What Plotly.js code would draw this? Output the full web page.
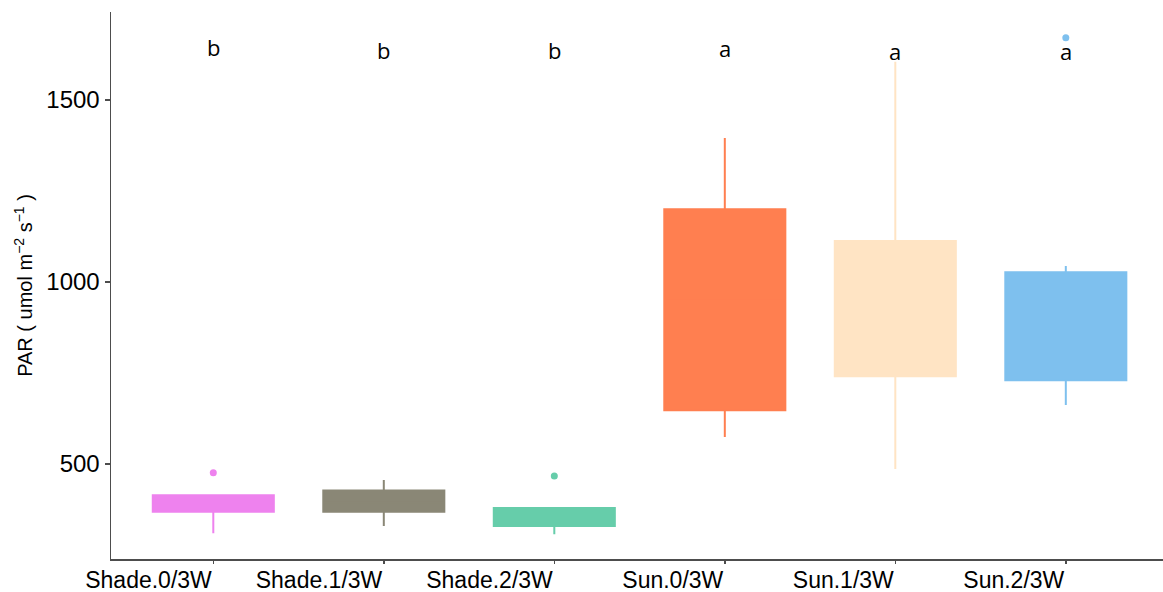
<!DOCTYPE html>
<html>
<head>
<meta charset="utf-8">
<script src="https://cdn.plot.ly/plotly-3.0.1.min.js"></script>
<style>html,body{margin:0;padding:0;background:#fff;}#chart{width:1163px;height:592px;}</style>
</head>
<body>
<div id="chart"></div>
<script>
const categories = ['Shade.0/3W','Shade.1/3W','Shade.2/3W','Sun.0/3W','Sun.1/3W','Sun.2/3W'];
const q1Values = [369, 369, 330, 648, 741, 730];
const medianValues = [385, 395, 350, 950, 920, 900];
const q3Values = [414, 427, 379, 1200, 1113, 1027];
const lowerWhisker = [310, 330, 307, 574, 486, 662];
const upperWhisker = [414, 456, 379, 1396, 1605, 1044];
const outlierCats = ['Shade.0/3W', 'Shade.2/3W', 'Sun.2/3W'];
const outlierValues = [476, 467, 1671];
const letters = ['b','b','b','a','a','a'];
const letterY = [1645, 1638, 1638, 1642, 1636, 1636];
const colors = ['#EE82EE','#8A8776','#66CDAA','#FF7F50','#FFE4C4','#7EC0EE'];

const traces = categories.map((c, i) => ({
  type: 'box',
  x: [c],
  q1: [q1Values[i]],
  median: [medianValues[i]],
  q3: [q3Values[i]],
  lowerfence: [lowerWhisker[i]],
  upperfence: [upperWhisker[i]],
  width: 0.71,
  fillcolor: colors[i],
  line: {color: colors[i], width: 2},
  whiskerwidth: 0,
  boxpoints: false,
  hoverinfo: 'skip',
  showlegend: false
}));

traces.push({
  type: 'scatter',
  mode: 'markers',
  x: outlierCats,
  y: outlierValues,
  marker: {size: 7, color: outlierCats.map(c => colors[categories.indexOf(c)])},
  showlegend: false,
  hoverinfo: 'skip'
});

const annotations = categories.map((c, i) => ({
  x: c, y: letterY[i], xref: 'x', yref: 'y',
  text: letters[i], showarrow: false,
  font: {family: 'Open Sans, sans-serif', size: 22, color: '#000'}
}));

const layout = {
  width: 1163, height: 592,
  margin: {l: 110.5, r: 0, t: 12, b: 33, pad: 0},
  paper_bgcolor: '#fff', plot_bgcolor: '#fff',
  boxmode: 'overlay',
  font: {family: 'Liberation Sans, Arial, sans-serif', color: '#000'},
  xaxis: {
    type: 'category',
    categoryorder: 'array', categoryarray: categories,
    range: [-0.6, 5.57],
    showgrid: false, zeroline: false,
    showline: true, linecolor: '#4d4d4d', linewidth: 1.5,
    ticks: 'outside', ticklen: 3, tickcolor: '#4d4d4d', tickwidth: 1.5,
    ticklabelposition: 'outside left',
    tickfont: {size: 23, color: '#000'},
    automargin: false
  },
  yaxis: {
    range: [239, 1742],
    tickvals: [500, 1000, 1500],
    showgrid: false, zeroline: false,
    showline: true, linecolor: '#4d4d4d', linewidth: 1.5,
    ticks: 'outside', ticklen: 5, tickcolor: '#4d4d4d', tickwidth: 1.5,
    tickfont: {size: 24, color: '#000'},
    title: {text: 'PAR ( umol m<sup>\u22122</sup> s<sup>\u22121</sup> )', font: {size: 20, color: '#000'}, standoff: 8},
    automargin: false
  },
  annotations: annotations
};

Plotly.newPlot('chart', traces, layout, {displayModeBar: false, staticPlot: true});
</script>
</body>
</html>
